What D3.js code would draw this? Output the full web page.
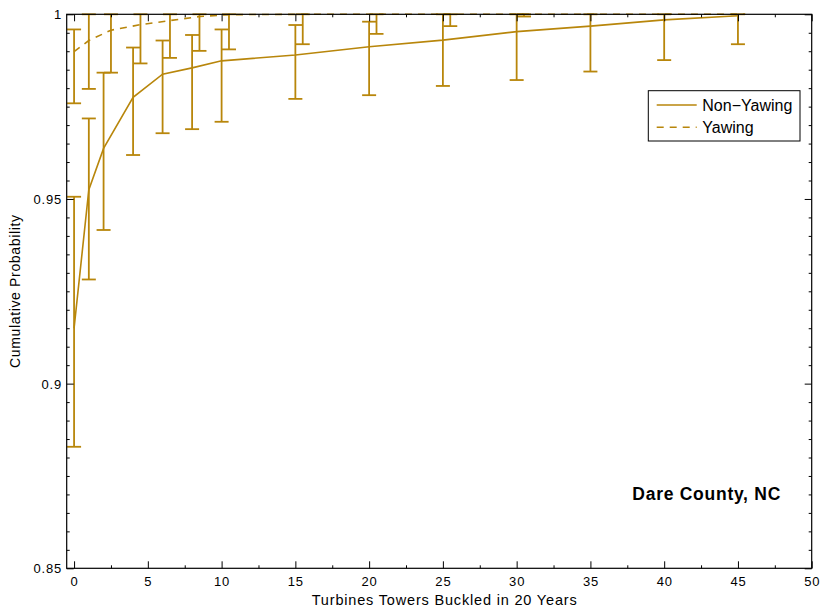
<!DOCTYPE html>
<html>
<head>
<meta charset="utf-8">
<script src="https://cdn.jsdelivr.net/npm/d3@7"></script>
<style>
  html, body { margin: 0; padding: 0; background: #fff; }
  svg { display: block; }
  text { font-family: "Liberation Sans", Arial, Helvetica, sans-serif; fill: #000; }
</style>
</head>
<body>
<svg id="chart" width="821" height="608"></svg>
<script>
// Number of turbine towers buckled in 20 years (x) vs cumulative probability
const nonYawingX     = [0, 1, 2, 4, 6, 8, 10, 15, 20, 25, 30, 35, 40, 45];
const nonYawingProb  = [0.9150, 0.9525, 0.9637, 0.9775, 0.9838, 0.9855, 0.9874, 0.9890, 0.9912, 0.9930, 0.9953, 0.9968, 0.9985, 0.9996];
const nonYawingLow   = [0.8829, 0.9282, 0.9416, 0.9619, 0.9678, 0.9689, 0.9709, 0.9771, 0.9781, 0.9806, 0.9822, 0.9845, 0.9876, 0.9919];
const nonYawingHigh  = [0.9506, 0.9718, 0.9842, 0.9910, 0.9929, 0.9944, 0.9959, 0.9971, 0.9980, 1, 1, 1, 1, 1];

const yawingX        = [0, 1, 2.5, 4.5, 6.5, 8.5, 10.5, 15.5, 20.5, 25.5, 30.5, 35.5, 40.5, 45.5];
const yawingProb     = [0.9899, 0.9929, 0.9957, 0.9972, 0.9983, 0.9994, 0.9999, 1, 1, 1, 1, 1, 1, 1];
const yawingErrX     = [0, 1, 2.5, 4.5, 6.5, 8.5, 10.5, 15.5, 20.5, 25.5, 30.5];
const yawingLow      = [0.9759, 0.9798, 0.9842, 0.9867, 0.9882, 0.9901, 0.9905, 0.9919, 0.9947, 0.9968, 0.9994];
const yawingHigh     = [0.9959, 1, 1, 1, 1, 1, 1, 1, 1, 1, 1];

const xTicks      = [0, 5, 10, 15, 20, 25, 30, 35, 40, 45, 50];
const xMinorTicks = [2.5, 7.5, 12.5, 17.5, 22.5, 27.5, 32.5, 37.5, 42.5, 47.5];
const yTicks      = [0.85, 0.9, 0.95, 1];
const yTickLabels = ["0.85", "0.9", "0.95", "1"];
const yMinorTicks = d3.range(1, 30).map(i => 0.85 + i * 0.005).filter(v => Math.abs((v * 20) - Math.round(v * 20)) > 1e-6);

const seriesNames = ["Non\u2212Yawing", "Yawing"];
const chartTitle  = "Dare County, NC";
const xLabel      = "Turbines Towers Buckled in 20 Years";
const yLabel      = "Cumulative Probability";

const gold = "#B8860B";
const plotLeft = 66.7, plotRight = 811.7, plotTop = 14.3, plotBottom = 568.3;

const svg = d3.select("#chart");
const x = d3.scaleLinear().domain([-0.5, 50]).range([plotLeft, plotRight]);
const y = d3.scaleLinear().domain([0.85, 1]).range([plotBottom, plotTop]);

const plot = svg.append("g");

// error bars with short caps
function errorBars(xs, lows, highs) {
  const half = 7;
  const g = plot.append("g").attr("stroke", gold).attr("stroke-width", 1.8).attr("fill", "none");
  xs.forEach((xv, i) => {
    const cx = x(xv), y0 = y(lows[i]), y1 = y(highs[i]);
    g.append("line").attr("x1", cx).attr("x2", cx).attr("y1", y0).attr("y2", y1);
    g.append("line").attr("x1", cx - half).attr("x2", cx + half).attr("y1", y0).attr("y2", y0);
    g.append("line").attr("x1", cx - half).attr("x2", cx + half).attr("y1", y1).attr("y2", y1);
  });
}
errorBars(nonYawingX, nonYawingLow, nonYawingHigh);
errorBars(yawingErrX, yawingLow, yawingHigh);

const line = d3.line().x(d => x(d[0])).y(d => y(d[1]));
plot.append("path")
  .datum(nonYawingX.map((v, i) => [v, nonYawingProb[i]]))
  .attr("d", line).attr("fill", "none").attr("stroke", gold).attr("stroke-width", 1.6);
plot.append("path")
  .datum(yawingX.map((v, i) => [v, yawingProb[i]]))
  .attr("d", line).attr("fill", "none").attr("stroke", gold).attr("stroke-width", 1.6)
  .attr("stroke-dasharray", "7,6");

// axes: ticks point inward on all four sides
function styleAxis(g) {
  g.select(".domain").remove();
  g.selectAll(".tick line").attr("stroke", "#000").attr("stroke-width", 1);
}
const fmtNone = () => "";

const xb = svg.append("g").attr("transform", `translate(0,${plotBottom})`)
  .call(d3.axisBottom(x).tickValues(xTicks).tickSizeInner(-7).tickSizeOuter(0).tickFormat(d3.format("d")));
styleAxis(xb);
xb.selectAll(".tick text").attr("y", 17.7).attr("dy", 0)
  .attr("font-size", 13).attr("letter-spacing", 0.8).style("font-family", "Liberation Sans, Arial, sans-serif");
svg.append("g").attr("transform", `translate(0,${plotBottom})`)
  .call(d3.axisBottom(x).tickValues(xMinorTicks).tickSizeInner(-3).tickSizeOuter(0).tickFormat(fmtNone)).call(styleAxis);
svg.append("g").attr("transform", `translate(0,${plotTop})`)
  .call(d3.axisTop(x).tickValues(xTicks).tickSizeInner(-7).tickSizeOuter(0).tickFormat(fmtNone)).call(styleAxis);
svg.append("g").attr("transform", `translate(0,${plotTop})`)
  .call(d3.axisTop(x).tickValues(xMinorTicks).tickSizeInner(-3).tickSizeOuter(0).tickFormat(fmtNone)).call(styleAxis);

const yl = svg.append("g").attr("transform", `translate(${plotLeft},0)`)
  .call(d3.axisLeft(y).tickValues(yTicks).tickSizeInner(-7).tickSizeOuter(0)
    .tickFormat((d, i) => yTickLabels[i]));
styleAxis(yl);
yl.selectAll(".tick text").attr("x", -4.7).attr("dy", "0.36em")
  .attr("font-size", 13).attr("letter-spacing", 0.8).style("font-family", "Liberation Sans, Arial, sans-serif");
svg.append("g").attr("transform", `translate(${plotLeft},0)`)
  .call(d3.axisLeft(y).tickValues(yMinorTicks).tickSizeInner(-3).tickSizeOuter(0).tickFormat(fmtNone)).call(styleAxis);
svg.append("g").attr("transform", `translate(${plotRight},0)`)
  .call(d3.axisRight(y).tickValues(yTicks).tickSizeInner(-7).tickSizeOuter(0).tickFormat(fmtNone)).call(styleAxis);
svg.append("g").attr("transform", `translate(${plotRight},0)`)
  .call(d3.axisRight(y).tickValues(yMinorTicks).tickSizeInner(-3).tickSizeOuter(0).tickFormat(fmtNone)).call(styleAxis);

// frame
svg.append("rect").attr("x", plotLeft).attr("y", plotTop).attr("width", plotRight - plotLeft).attr("height", plotBottom - plotTop)
  .attr("fill", "none").attr("stroke", "#000").attr("stroke-width", 1.2);

// axis labels
svg.append("text").attr("x", 444.2).attr("y", 605).attr("text-anchor", "middle")
  .attr("font-size", 14.5).attr("textLength", 265).attr("lengthAdjust", "spacing").text(xLabel);
svg.append("text").attr("transform", "translate(19.5,291.5) rotate(-90)").attr("text-anchor", "middle")
  .attr("font-size", 14).attr("textLength", 153).attr("lengthAdjust", "spacing").text(yLabel);

// annotation
svg.append("text").attr("x", 632.3).attr("y", 500).attr("font-size", 17.5).attr("font-weight", "bold")
  .attr("textLength", 148).attr("lengthAdjust", "spacing").text(chartTitle);

// legend
const lg = svg.append("g");
lg.append("rect").attr("x", 648.3).attr("y", 90.7).attr("width", 151.7).attr("height", 50.3)
  .attr("fill", "#fff").attr("stroke", "#000").attr("stroke-width", 1);
const legendRows = [{ dash: null, y: 105 }, { dash: "7,6", y: 127.3 }];
legendRows.forEach((r, i) => {
  lg.append("line").attr("x1", 656.7).attr("x2", 696.7).attr("y1", r.y).attr("y2", r.y)
    .attr("stroke", gold).attr("stroke-width", 1.6).attr("stroke-dasharray", r.dash);
  lg.append("text").attr("x", 702.3).attr("y", r.y + 5.5).attr("font-size", 16).text(seriesNames[i]);
});
</script>
</body>
</html>
